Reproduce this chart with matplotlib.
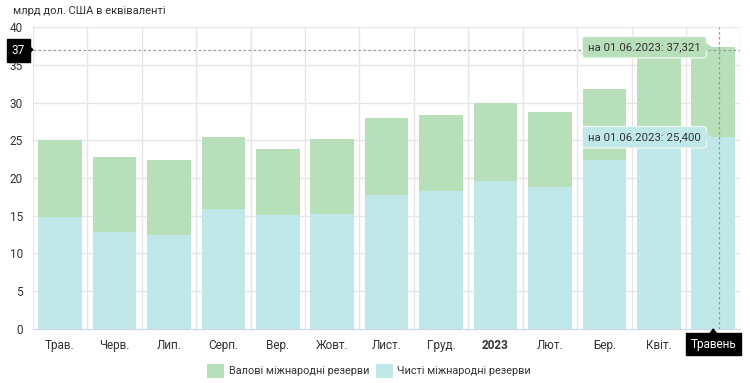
import matplotlib.pyplot as plt
import numpy as np
from matplotlib.patches import Patch, Polygon

plt.rcParams['font.family'] = ['Roboto', 'DejaVu Sans']

months = ['Трав.', 'Черв.', 'Лип.', 'Серп.', 'Вер.', 'Жовт.', 'Лист.', 'Груд.',
          '2023', 'Лют.', 'Бер.', 'Квіт.', 'Травень']
gross = [25.0, 22.8, 22.4, 25.4, 23.8, 25.2, 27.9, 28.4, 29.9, 28.8, 31.8, 35.9, 37.321]
net = [14.9, 12.9, 12.5, 15.9, 15.1, 15.2, 17.7, 18.3, 19.6, 18.8, 22.4, 24.8, 25.4]
cross_y = 37
tip_gross = 'на 01.06.2023: 37,321'
tip_net = 'на 01.06.2023: 25,400'

green = '#b7dfb9'
blue = '#c1e8e9'
grid_c = '#e6e6e6'
text_c = '#333333'

fig = plt.figure(figsize=(7.5, 3.83), dpi=100)
ax = fig.add_axes([0.0437, 0.141, 0.9436, 0.7885])

x = np.arange(len(months))
ax.bar(x, gross, width=0.8, color=green, zorder=2)
ax.bar(x, net, width=0.8, color=blue, zorder=3)

ax.set_xlim(-0.5, len(months) - 0.5)
ax.set_ylim(0, 40)
ax.set_yticks(range(0, 41, 5))
ax.set_xticks(x)
# the last category is shown in the crosshair label box instead
ax.set_xticklabels(months[:-1] + [''])
ax.tick_params(axis='both', length=0, labelsize=8.5, colors=text_c)
ax.tick_params(axis='y', pad=7)
ax.tick_params(axis='x', pad=7)
ax.get_xticklabels()[8].set_fontweight('bold')

# grid: horizontal at ticks, vertical at category boundaries
for yv in range(5, 41, 5):
    ax.axhline(yv, color=grid_c, lw=1, zorder=1)
for xv in np.arange(-0.5, len(months), 1.0):
    ax.axvline(xv, color=grid_c, lw=1, zorder=1)

for s in ['top', 'right', 'left']:
    ax.spines[s].set_visible(False)
ax.spines['bottom'].set_color('#ccd6eb')
ax.spines['bottom'].set_zorder(5)

# crosshairs
ax.axhline(cross_y, color='#999999', lw=0.9, ls=(0, (2, 2)), zorder=6)
ax.axvline(12.1, color='#999999', lw=0.9, ls=(0, (2, 2)), zorder=6)

# y crosshair label
ax.text(-0.64, cross_y - 0.1, '37', ha='right', va='center', fontsize=8.5, color='white',
        clip_on=False, zorder=10,
        bbox=dict(boxstyle='square,pad=0.45', fc='black', ec='black'))
ax.add_patch(Polygon([[-0.6, cross_y + 0.7], [-0.5, cross_y], [-0.6, cross_y - 0.7]],
                     closed=True, fc='black', ec='black', clip_on=False, zorder=10))

# x crosshair label
ax.text(12, -2.0, months[-1], ha='center', va='center', fontsize=8.5, color='white',
        clip_on=False, zorder=10,
        bbox=dict(boxstyle='square,pad=0.4', fc='black', ec='black'))
ax.add_patch(Polygon([[11.92, -0.8], [12, 0], [12.08, -0.8]],
                     closed=True, fc='black', ec='black', clip_on=False, zorder=10))

# tooltips
for val, txt, col in [(gross[-1], tip_gross, green), (net[-1], tip_net, blue)]:
    ax.text(11.77, val, txt, ha='right', va='center', fontsize=8.2, color=text_c,
            zorder=11,
            bbox=dict(boxstyle='round,pad=0.5,rounding_size=0.25', fc=col, ec='#eef7ee', lw=1))
    ax.add_patch(Polygon([[11.86, val + 0.6], [11.99, val], [11.86, val - 0.6]],
                         closed=True, fc=col, ec='none', zorder=11))

fig.text(0.018, 0.972, 'млрд дол. США в еквіваленті', fontsize=8, color=text_c,
         ha='left', va='center')

handles = [Patch(fc=green, ec='none', label='Валові міжнародні резерви'),
           Patch(fc=blue, ec='none', label='Чисті міжнародні резерви')]
fig.legend(handles=handles, loc='center', bbox_to_anchor=(0.492, 0.032), ncol=2,
           frameon=False, fontsize=7.8, handlelength=1.6, handleheight=1.6,
           columnspacing=0.6, handletextpad=0.4, labelcolor=text_c)

fig.savefig('out.png', dpi=100)
